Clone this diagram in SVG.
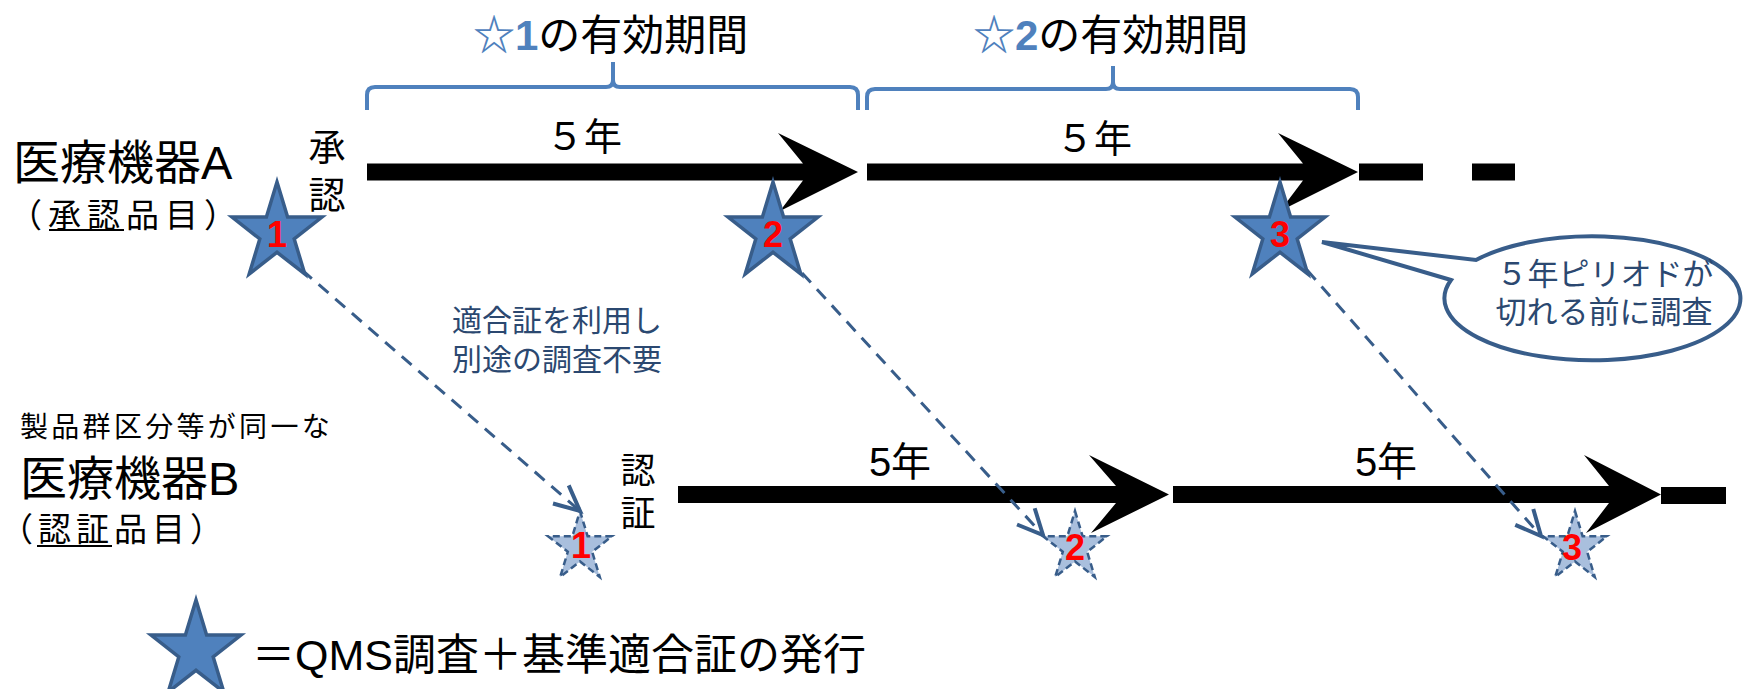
<svg xmlns="http://www.w3.org/2000/svg" width="1744" height="689" viewBox="0 0 1744 689">
<style>
.jp{font-family:'Liberation Sans','Noto Sans CJK JP','Noto Sans CJK SC',sans-serif;fill:#000}
.num{font-family:'Liberation Sans',Arial,sans-serif;font-weight:bold;font-size:36px;fill:#FF0000;text-anchor:middle}
.starA{fill:#4F81BD;stroke:#385D8A;stroke-width:3.5;stroke-linejoin:miter}
.starB{fill:#A9BFDD;stroke:#385D8A;stroke-width:2.5;stroke-dasharray:7 4}
.brace{fill:none;stroke:#4F81BD;stroke-width:4}
.conn{fill:none;stroke:#385D8A;stroke-width:3;stroke-dasharray:13 9}
.note{fill:#2B4870;font-size:30px}
.bar{fill:#000}
.vert{writing-mode:vertical-rl;text-orientation:upright;font-family:'Noto Sans CJK JP',sans-serif}
</style>
<defs>
<marker id="openArrow" markerUnits="userSpaceOnUse" markerWidth="40" markerHeight="40" viewBox="-25 -15 30 30" refX="0" refY="0" orient="auto" overflow="visible">
<path d="M-19,-9 L0,0 L-19,9" fill="none" stroke="#385D8A" stroke-width="3"/>
</marker>
</defs>
<rect width="1744" height="689" fill="#FFFFFF"/>

<g id="titles">
<text class="jp" x="473" y="50" font-size="42"><tspan fill="#4F81BD" font-weight="bold">☆1</tspan><tspan>の有効期間</tspan></text>
<text class="jp" x="973" y="50" font-size="42"><tspan fill="#4F81BD" font-weight="bold">☆2</tspan><tspan>の有効期間</tspan></text>
</g>

<g id="braces">
<path class="brace" d="M367,110 V95 Q367,87 375,87 H606 Q613,87 613,80 V62 V80 Q613,87 620,87 H850 Q858,87 858,95 V110"/>
<path class="brace" d="M867,110 V97 Q867,89 875,89 H1106 Q1113,89 1113,82 V66 V82 Q1113,89 1120,89 H1350 Q1358,89 1358,97 V110"/>
</g>

<g id="deviceA">
<text class="jp"><tspan x="13" y="179" font-size="47">医療機器A</tspan><tspan x="9" y="227" font-size="33" letter-spacing="6">（承認品目）</tspan></text>
<line x1="49" y1="230" x2="124" y2="230" stroke="#000" stroke-width="2"/>
<text class="jp vert" x="327" y="128" font-size="37" letter-spacing="11">承認</text>
</g>

<g id="deviceB">
<text class="jp"><tspan x="20" y="437" font-size="28" letter-spacing="3.3">製品群区分等が同一な</tspan><tspan x="20" y="495" font-size="47">医療機器B</tspan><tspan x="0" y="541" font-size="33" letter-spacing="5">（認証品目）</tspan></text>
<line x1="37" y1="546" x2="112" y2="546" stroke="#000" stroke-width="2"/>
<text class="jp vert" x="638" y="452" font-size="35" letter-spacing="8">認証</text>
</g>

<g id="timelineA">
<polygon class="bar" points="367,163.5 803,163.5 778,133 858,172 780,211 803,180.5 367,180.5"/>
<polygon class="bar" points="867,163.5 1303,163.5 1278,133 1358,172 1280,211 1303,180.5 867,180.5"/>
<rect class="bar" x="1359" y="163.5" width="64" height="17"/>
<rect class="bar" x="1472" y="163.5" width="43" height="17"/>
<text class="jp" x="584" y="150" font-size="38" text-anchor="middle">５年</text>
<text class="jp" x="1094" y="152" font-size="38" text-anchor="middle">５年</text>
</g>

<g id="timelineB">
<polygon class="bar" points="678,486 1116,486 1089,455 1169,494.5 1091,533 1116,503 678,503"/>
<polygon class="bar" points="1173,486 1609,486 1584,455 1661,494.5 1586,533 1609,503 1173,503"/>
<rect class="bar" x="1661" y="487" width="65" height="17"/>
<text class="jp" x="900" y="476" font-size="40" text-anchor="middle">5年</text>
<text class="jp" x="1386" y="476" font-size="40" text-anchor="middle">5年</text>
</g>

<g id="starA1">
<polygon class="starA" points="277,182 287.6,217.1 322,217.1 294.2,238.9 304.8,274 277,252.3 249.2,274 259.8,238.9 232,217.1 266.4,217.1"/>
<text class="num" x="277" y="247">1</text>
</g>
<g id="starA2">
<polygon class="starA" points="773,182 783.6,217.1 818,217.1 790.2,238.9 800.8,274 773,252.3 745.2,274 755.8,238.9 728,217.1 762.4,217.1"/>
<text class="num" x="773" y="247">2</text>
</g>
<g id="starA3">
<polygon class="starA" points="1280,182 1290.6,217.1 1325,217.1 1297.2,238.9 1307.8,274 1280,252.3 1252.2,274 1262.8,238.9 1235,217.1 1269.4,217.1"/>
<text class="num" x="1280" y="247">3</text>
</g>

<g id="starB1">
<polygon class="starB" points="580,511 587.6,536.2 612,536.2 592.2,551.8 599.8,577 580,561.4 560.2,577 567.8,551.8 548,536.2 572.4,536.2"/>
<text class="num" x="581" y="558">1</text>
</g>
<g id="starB2">
<polygon class="starB" points="1075,511 1082.6,536.2 1107,536.2 1087.2,551.8 1094.8,577 1075,561.4 1055.2,577 1062.8,551.8 1043,536.2 1067.4,536.2"/>
<text class="num" x="1075" y="560">2</text>
</g>
<g id="starB3">
<polygon class="starB" points="1575,511 1582.6,536.2 1607,536.2 1587.2,551.8 1594.8,577 1575,561.4 1555.2,577 1562.8,551.8 1543,536.2 1567.4,536.2"/>
<text class="num" x="1572" y="560">3</text>
</g>

<g id="connectors">
<line class="conn" x1="302" y1="270" x2="580" y2="511" marker-end="url(#openArrow)"/>
<line class="conn" x1="802" y1="273" x2="1043" y2="535" marker-end="url(#openArrow)"/>
<line class="conn" x1="1307" y1="270" x2="1541" y2="536" marker-end="url(#openArrow)"/>
</g>

<g id="note">
<text class="jp note" text-anchor="middle"><tspan x="557" y="331">適合証を利用し</tspan><tspan x="557" y="370">別途の調査不要</tspan></text>
</g>

<g id="callout">
<path d="M1451,280 L1322,242 L1476,260 A148,62 0 1 1 1451,280 Z" fill="#FFFFFF" stroke="#385D8A" stroke-width="4" stroke-linejoin="miter"/>
<text class="jp note" text-anchor="middle" style="font-size:31px"><tspan x="1605" y="285">５年ピリオドが</tspan><tspan x="1604" y="323">切れる前に調査</tspan></text>
</g>

<g id="legend">
<polygon class="starA" points="196,600 206.6,635.1 241,635.1 213.2,656.9 223.8,692 196,670.3 168.2,692 178.8,656.9 151,635.1 185.4,635.1"/>
<text class="jp" x="252" y="670" font-size="43">＝QMS調査＋基準適合証の発行</text>
</g>
</svg>
